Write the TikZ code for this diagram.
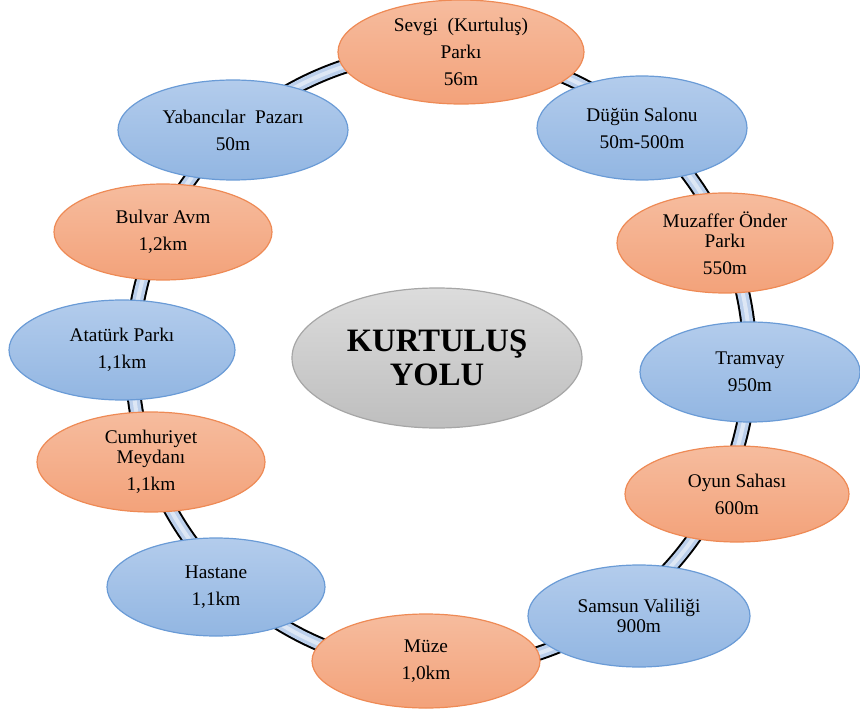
\documentclass[tikz,border=0pt]{standalone}
\usepackage{fontspec}
\setmainfont{Liberation Serif}
\usetikzlibrary{shapes.geometric}
\definecolor{orangeTop}{HTML}{F6BC9E}
\definecolor{orangeBot}{HTML}{F3A27A}
\definecolor{orangeEdge}{HTML}{EE8A55}
\definecolor{blueTop}{HTML}{B3CCEC}
\definecolor{blueBot}{HTML}{92B6E2}
\definecolor{blueEdge}{HTML}{6A9BD6}
\definecolor{grayTop}{HTML}{DCDCDC}
\definecolor{grayBot}{HTML}{BEBEBE}
\definecolor{grayEdge}{HTML}{A6A6A6}
\definecolor{ringFill}{HTML}{BCD0EC}
\definecolor{ringLight}{HTML}{DDE7F5}
\begin{document}
\begin{tikzpicture}[x=0.75pt,y=-0.75pt,
  bub/.style 2 args={ellipse, inner sep=0pt, align=center,
    minimum width=#1*0.75pt, minimum height=#2*0.75pt,
    line width=0.9pt, font=\fontsize{14.5}{20.25}\selectfont},
  orangebub/.style={draw=orangeEdge, top color=orangeTop, bottom color=orangeBot},
  bluebub/.style={draw=blueEdge, top color=blueTop, bottom color=blueBot},
  hubbub/.style={draw=grayEdge, top color=grayTop, bottom color=grayBot,
    font=\fontsize{24.5}{26}\selectfont\bfseries}
]
\useasboundingbox (0,0) rectangle (860,713);

% the ring road joining all stops
\coordinate (ringc) at (441,360);
\draw[line width=15*0.75pt, black] (ringc) ellipse [x radius=309, y radius=309];
\draw[line width=11*0.75pt, ringFill] (ringc) ellipse [x radius=309, y radius=309];
\draw[line width=4*0.75pt, ringLight] (ringc) ellipse [x radius=309, y radius=309];

% stops around the ring
\node[bub={246}{104}, orangebub] (sevgi) at (461,52) {Sevgi\ \ (Kurtuluş)\\Parkı\\56m};
\node[bub={210}{104}, bluebub] (dugun) at (642,128) {Düğün Salonu\\50m-500m};
\node[bub={216}{100}, orangebub] (muzaffer) at (725,243) {Muzaffer Önder\\[-5.5pt]Parkı\\550m};
\node[bub={220}{100}, bluebub] (tramvay) at (750,372) {Tramvay\\950m};
\node[bub={224}{96}, orangebub] (oyun) at (737,494) {Oyun Sahası\\600m};
\node[bub={222}{102}, bluebub, font=\fontsize{14.5}{14.6}\selectfont] (vali) at (639,616) {Samsun Valiliği\\900m};
\node[bub={228}{94}, orangebub] (muze) at (426,661) {Müze\\1,0km};
\node[bub={218}{98}, bluebub] (hastane) at (216,587) {Hastane\\1,1km};
\node[bub={228}{100}, orangebub] (cumhuriyet) at (151,462) {Cumhuriyet\\[-5.5pt]Meydanı\\1,1km};
\node[bub={226}{100}, bluebub] (ataturk) at (122,350) {Atatürk Parkı\\1,1km};
\node[bub={218}{96}, orangebub] (bulvar) at (163,232) {Bulvar Avm\\1,2km};
\node[bub={230}{100}, bluebub] (yabanci) at (233,130) {Yabancılar\ \ Pazarı\\50m};

% the road itself, in the middle
\node[bub={290}{140}, hubbub] (hub) at (437,358) {KURTULUŞ\\YOLU};
\end{tikzpicture}
\end{document}
